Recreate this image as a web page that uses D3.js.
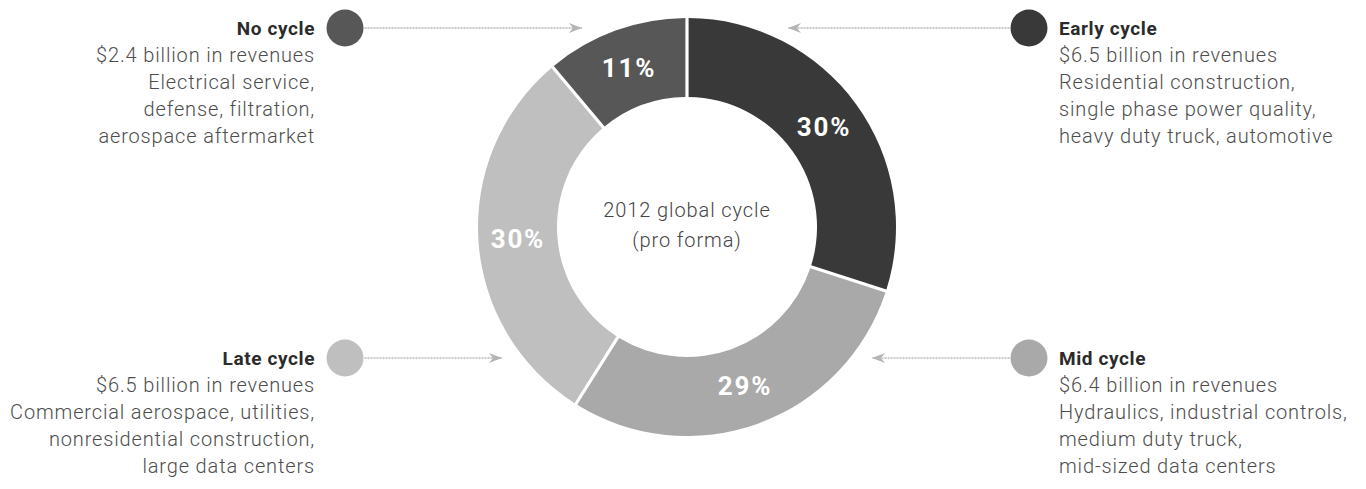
<!DOCTYPE html>
<html>
<head>
<meta charset="utf-8">
<script src="https://cdn.jsdelivr.net/npm/d3@7"></script>
<style>
  html, body { margin: 0; padding: 0; background: #fff; }
  svg { display: block; }
  text { font-family: Roboto, "Liberation Sans", sans-serif; }
</style>
</head>
<body>
<svg id="chart" width="1366" height="489"></svg>
<script>
// Business segments by position in the economic cycle (2012, pro forma)
const segments = ["Early cycle", "Mid cycle", "Late cycle", "No cycle"];
const shares = [30, 29, 30, 11];            // % of revenues
const revenues = [6.5, 6.4, 6.5, 2.4];      // $ billion
const markets = [
  ["Residential construction,", "single phase power quality,", "heavy duty truck, automotive"],
  ["Hydraulics, industrial controls,", "medium duty truck,", "mid-sized data centers"],
  ["Commercial aerospace, utilities,", "nonresidential construction,", "large data centers"],
  ["Electrical service,", "defense, filtration,", "aerospace aftermarket"]
];
const centerLines = ["2012 global cycle", "(pro forma)"];

const svg = d3.select("#chart");
const cx = 687, cy = 227, outerR = 209, innerR = 130;

const shade = d3.scaleOrdinal()
  .domain(segments)
  .range(["#393939", "#a9a9a9", "#bfbfbf", "#575757"]);

const rows = segments.map((name, i) => ({
  name, share: shares[i], revenue: revenues[i], lines: markets[i]
}));

const pie = d3.pie().sort(null).value(d => d.share).padAngle(0.013);
const arc = d3.arc().innerRadius(innerR).outerRadius(outerR);

const donut = svg.append("g").attr("transform", `translate(${cx},${cy})`);
const arcs = pie(rows);

donut.selectAll("path.slice")
  .data(arcs)
  .join("path")
  .attr("class", "slice")
  .attr("d", arc)
  .attr("fill", d => shade(d.data.name));

donut.selectAll("text.pct")
  .data(arcs)
  .join("text")
  .attr("class", "pct")
  .attr("transform", d => `translate(${arc.centroid(d)})`)
  .attr("text-anchor", "middle")
  .attr("dominant-baseline", "central")
  .attr("fill", "#fff")
  .attr("font-weight", 700)
  .attr("font-size", 26)
  .attr("letter-spacing", 1.8)
  .text(d => d.data.share + "%");

donut.selectAll("text.center")
  .data(centerLines)
  .join("text")
  .attr("class", "center")
  .attr("x", 0)
  .attr("y", (d, i) => -17 + i * 30)
  .attr("text-anchor", "middle")
  .attr("dominant-baseline", "central")
  .attr("fill", "#444")
  .attr("font-weight", 300)
  .attr("font-size", 20)
  .attr("letter-spacing", 0.9)
  .text(d => d);

// Callout layout: which side and row each segment's note sits in
const place = {
  "Early cycle": { side: 1, y: 28, tip: 101 },
  "Mid cycle":   { side: 1, y: 358, tip: 185 },
  "Late cycle":  { side: -1, y: 358, tip: 185 },
  "No cycle":    { side: -1, y: 28, tip: 105 }
};
const dotOffset = 342, dotR = 18.5, textOffset = 372, lineGap = 27;

const defs = svg.append("defs");
defs.append("marker")
  .attr("id", "head")
  .attr("viewBox", "0 -6 14 12")
  .attr("refX", 13).attr("refY", 0)
  .attr("markerWidth", 14).attr("markerHeight", 12)
  .attr("markerUnits", "userSpaceOnUse")
  .attr("orient", "auto")
  .append("path")
  .attr("d", "M0,-5 L13,0 L0,5 L4,0 Z")
  .attr("fill", "#b5b5b5");

const notes = svg.selectAll("g.note")
  .data(rows)
  .join("g")
  .attr("class", "note");

notes.each(function(d) {
  const g = d3.select(this);
  const p = place[d.name];
  const dotX = cx + p.side * dotOffset;
  const tipX = cx + p.side * p.tip;
  const textX = cx + p.side * textOffset;
  const anchor = p.side < 0 ? "end" : "start";

  g.append("line")
    .attr("x1", dotX - p.side * (dotR + 1))
    .attr("x2", tipX)
    .attr("y1", p.y).attr("y2", p.y)
    .attr("stroke", "#b8b8b8")
    .attr("stroke-width", 1.5)
    .attr("stroke-dasharray", "2,1")
    .attr("marker-end", "url(#head)");

  g.append("circle")
    .attr("cx", dotX).attr("cy", p.y).attr("r", dotR)
    .attr("fill", shade(d.name));

  g.append("text")
    .attr("x", textX).attr("y", p.y)
    .attr("text-anchor", anchor)
    .attr("dominant-baseline", "central")
    .attr("fill", "#2b2b2b")
    .attr("font-weight", 700)
    .attr("font-size", 19)
    .attr("letter-spacing", 0.6)
    .text(d.name);

  const body = [`$${d.revenue} billion in revenues`].concat(d.lines);
  g.selectAll("text.body")
    .data(body)
    .join("text")
    .attr("class", "body")
    .attr("x", textX)
    .attr("y", (t, i) => p.y + (i + 1) * lineGap)
    .attr("text-anchor", anchor)
    .attr("dominant-baseline", "central")
    .attr("fill", "#4d4d4d")
    .attr("font-weight", 300)
    .attr("font-size", 20)
    .attr("letter-spacing", 0.85)
    .text(t => t);
});
</script>
</body>
</html>
